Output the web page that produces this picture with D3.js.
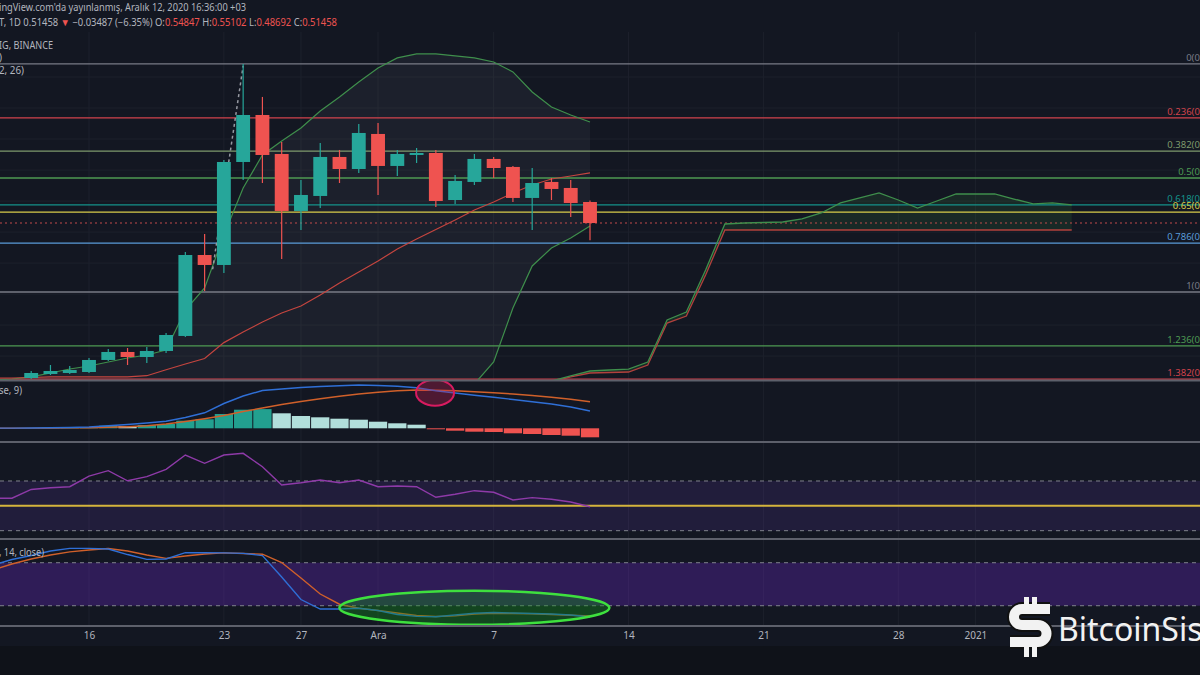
<!DOCTYPE html>
<html lang="tr">
<head>
<meta charset="UTF-8">
<title>XRP 1D - BINANCE</title>
<script src="https://d3js.org/d3.v7.min.js"></script>
<style>
    body { margin: 0; background: #131722; }
    svg { display: block; font-family: "Noto Sans", sans-serif; }
</style>
</head>
<body>
<svg width="1200" height="675"></svg>
<script>
// ---- candles (daily, from 2020-11-13) ----
var candleStart = "2020-11-13";
var open  = [0.2646,0.2711,0.2727,0.2743,0.2937,0.3066,0.2985,0.3082,0.3324,0.4630,0.4469,0.6130,0.6888,0.6259,0.5340,0.5582,0.6211,0.6017,0.6582,0.6066,0.6243,0.6275,0.5517,0.5808,0.6179,0.6050,0.5550,0.5808,0.5711,0.54847];
var high  = [0.2759,0.2856,0.2840,0.2969,0.3114,0.3130,0.3146,0.3372,0.4679,0.4969,0.6162,0.7711,0.7179,0.6453,0.5840,0.6437,0.6324,0.6743,0.6759,0.6324,0.6356,0.6324,0.5920,0.6259,0.6211,0.6066,0.6033,0.5872,0.5840,0.55102];
var low   = [0.2630,0.2695,0.2711,0.2727,0.2920,0.2856,0.2888,0.3050,0.3308,0.4050,0.4340,0.5840,0.5791,0.4566,0.5033,0.5388,0.5791,0.5953,0.5598,0.5904,0.6114,0.5404,0.5453,0.5759,0.5872,0.5485,0.5033,0.5517,0.5243,0.48692];
var close = [0.2727,0.2759,0.2775,0.2937,0.3066,0.2985,0.3082,0.3340,0.4630,0.4469,0.6130,0.6888,0.6243,0.5340,0.5598,0.6211,0.6017,0.6598,0.6066,0.6259,0.6275,0.5501,0.5824,0.6179,0.6033,0.5550,0.5791,0.5695,0.5469,0.51458];

// ---- indicators (daily, from 2020-11-11) ----
var indStart = "2020-11-11";
var bbUpper = [0.2614,0.2630,0.2663,0.2727,0.2791,0.2840,0.2904,0.2969,0.3017,0.3098,0.3743,0.4098,0.4953,0.5711,0.6243,0.6469,0.6679,0.6953,0.7179,0.7421,0.7646,0.7808,0.7872,0.7872,0.7840,0.7808,0.7743,0.7582,0.7259,0.7017,0.6888,0.6775];
var bbBasis = [0.2646,0.2646,0.2654,0.2663,0.2663,0.2663,0.2663,0.2663,0.2683,0.2779,0.2872,0.2961,0.3217,0.3388,0.3550,0.3695,0.3808,0.3985,0.4179,0.4356,0.4533,0.4727,0.4888,0.5041,0.5195,0.5356,0.5485,0.5630,0.5759,0.5856,0.5904,0.5953];
var bbLower = [0.2550,0.2550,0.2550,0.2540,0.2530,0.2520,0.2480,0.2440,0.2400,0.2350,0.2150,0.1900,0.1500,0.1100,0.0900,0.0900,0.0950,0.1000,0.1150,0.1300,0.1450,0.1650,0.1900,0.2100,0.2350,0.2550,0.2905,0.3775,0.4453,0.4743,0.4904,0.5098];

var macdLine   = [0.0002,0.0002,0.0003,0.0005,0.0008,0.0013,0.0025,0.0038,0.0053,0.0070,0.0108,0.0155,0.0248,0.0323,0.0378,0.0393,0.0408,0.0418,0.0426,0.0433,0.0428,0.0421,0.0405,0.0375,0.0353,0.0331,0.0310,0.0288,0.0265,0.0243,0.0213,0.0173];
var macdSignal = [0.0001,0.0001,0.0002,0.0003,0.0004,0.0006,0.0010,0.0016,0.0026,0.0043,0.0068,0.0096,0.0128,0.0168,0.0203,0.0238,0.0268,0.0296,0.0320,0.0343,0.0360,0.0375,0.0383,0.0380,0.0375,0.0365,0.0355,0.0343,0.0328,0.0310,0.0290,0.0266];
var macdHist   = [0.0001,0.0001,0.0003,0.0005,0.0007,0.0013,0.0026,0.0023,0.0033,0.0043,0.0076,0.0090,0.0143,0.0186,0.0192,0.0150,0.0123,0.0110,0.0096,0.0086,0.0066,0.0050,0.0036,-0.0010,-0.0024,-0.0034,-0.0037,-0.0050,-0.0057,-0.0067,-0.0074,-0.0090];

var rsi    = [56.1,56.1,63.2,64.6,65.4,74.0,78.3,70.2,73.5,79.4,90.9,84.2,90.9,92.3,81.5,66.8,68.6,70.8,68.6,70.8,65.4,66.0,65.4,56.9,59.3,62.2,60.9,54.7,56.6,55.3,53.1,49.3];
var stochK = [76.8,84.5,90.0,96.3,100,100,99.1,91.4,84.7,85.2,94.0,94.0,93.8,93.1,90.0,60.0,28.6,15.4,15.4,16.4,13.3,7.7,5.2,4.7,7.0,9.4,10.5,9.8,9.1,8.4,7.0,4.2];
var stochD = [69.8,78.2,85.2,90.7,95.2,97.7,99.8,96.3,90.7,86.1,89.3,92.1,93.8,92.8,91.9,80.3,58.6,36.3,22.1,16.4,13.3,9.8,6.3,4.9,5.9,8.4,9.4,9.1,8.7,7.7,6.7,5.6];

// ---- ichimoku cloud (shifted forward, from 2020-12-10) ----
var cloudStart = "2020-12-10";
var spanA = [0.2598,0.2679,0.2759,0.2775,0.2791,0.2904,0.3582,0.3711,0.4388,0.5130,0.5146,0.5154,0.5162,0.5211,0.5308,0.5469,0.5550,0.5630,0.5517,0.5388,0.5501,0.5614,0.5614,0.5614,0.5533,0.5453,0.5469,0.5437];
var spanB = [0.2582,0.2663,0.2727,0.2735,0.2743,0.2856,0.3533,0.3646,0.4308,0.5033,0.5033,0.5033,0.5033,0.5033,0.5033,0.5033,0.5033,0.5033,0.5033,0.5033,0.5033,0.5033,0.5033,0.5033,0.5033,0.5033,0.5033,0.5033];

// ---- fibonacci retracement ----
var fibHigh = 0.7711, fibLow = 0.4033;
var fibLevels = [0, 0.236, 0.382, 0.5, 0.618, 0.65, 0.786, 1, 1.236, 1.382];
var fibColors = ["#787b86","#d2434c","#7e9a6c","#4e9a52","#14928a","#d8cc4a","#5a9bd8","#787b86","#4e9a52","#d2434c"];

// dashed drawing near the 24 Nov top
var trendLine = [{t: "2020-11-22T10:00:00Z", p: 0.440}, {t: "2020-11-24T00:00:00Z", p: 0.768}];
var lastClose = 0.51458;

// ---- x axis ----
var tickDates  = ["2020-11-16","2020-11-23","2020-11-27","2020-12-01","2020-12-07","2020-12-14","2020-12-21","2020-12-28","2021-01-01"];
var tickLabels = ["16","23","27","Ara","7","14","21","28","2021"];

// annotations
var macdMark  = {t: "2020-12-03T23:00:00Z", v: 0.0356};
var stochMark = {t: "2020-12-06T00:00:00Z", v: 17.2};

var svg = d3.select("svg"),
    width = +svg.attr("width"),
    height = +svg.attr("height");

function days(start, n) {
    var s = new Date(start);
    return d3.range(n).map(function(i) { return d3.utcDay.offset(s, i); });
}

var x = d3.scaleUtc()
    .domain([new Date("2020-11-16"), new Date("2020-12-12")])
    .range([89, 590]);
var dayW = x(new Date("2020-11-17")) - x(new Date("2020-11-16"));

var yP = d3.scaleLinear().domain([0.2614, 0.8178]).range([380, 35]);
var yM = d3.scaleLinear().domain([-0.0127, 0.0473]).range([441, 381]);
var yR = d3.scaleLinear().domain([24.1, 101.4]).range([538, 442]);
var yS = d3.scaleLinear().domain([-6.9, 111.7]).range([625, 540]);

var panes = [
    {id: "main",  top: 32,  bottom: 380},
    {id: "macd",  top: 381, bottom: 441},
    {id: "rsi",   top: 443, bottom: 538},
    {id: "stoch", top: 540, bottom: 625}
];

svg.append("rect").attr("width", width).attr("height", height).attr("fill", "#131722");
svg.append("rect").attr("y", 646).attr("width", width).attr("height", height - 646).attr("fill", "#0f1219");

var defs = svg.append("defs");
panes.forEach(function(p) {
    defs.append("clipPath").attr("id", "clip-" + p.id)
        .append("rect").attr("x", 0).attr("y", p.top).attr("width", width).attr("height", p.bottom - p.top);
});

// grid
var grid = svg.append("g").attr("stroke", "#1d212c").attr("stroke-width", 1);
grid.selectAll("line.v")
    .data(tickDates)
    .enter().append("line")
    .attr("x1", function(d) { return x(new Date(d)); })
    .attr("x2", function(d) { return x(new Date(d)); })
    .attr("y1", 32).attr("y2", 626);
grid.selectAll("line.h")
    .data(d3.range(0.30, 0.80, 0.05))
    .enter().append("line")
    .attr("x1", 0).attr("x2", width)
    .attr("y1", function(d) { return yP(d); })
    .attr("y2", function(d) { return yP(d); });

// ---------------- main pane ----------------
var main = svg.append("g").attr("clip-path", "url(#clip-main)");
var indDays = days(indStart, bbUpper.length);

// bollinger fill
main.append("path")
    .datum(indDays)
    .attr("fill", "rgba(200,205,220,0.055)")
    .attr("d", d3.area()
        .x(function(d) { return x(d); })
        .y0(function(d, i) { return yP(bbLower[i]); })
        .y1(function(d, i) { return yP(bbUpper[i]); }));

// cloud fill
var cloudDays = days(cloudStart, spanA.length);
main.append("path")
    .datum(cloudDays)
    .attr("fill", "rgba(67,160,71,0.13)")
    .attr("d", d3.area()
        .x(function(d) { return x(d); })
        .y0(function(d, i) { return yP(spanB[i]); })
        .y1(function(d, i) { return yP(spanA[i]); }));

// fib lines + labels
var fib = fibLevels.map(function(l, i) {
    return {level: l, price: fibHigh - l * (fibHigh - fibLow), color: fibColors[i]};
});
main.selectAll("line.fib")
    .data(fib)
    .enter().append("line")
    .attr("x1", 0).attr("x2", width)
    .attr("y1", function(d) { return yP(d.price); })
    .attr("y2", function(d) { return yP(d.price); })
    .attr("stroke", function(d) { return d.color; })
    .attr("stroke-width", 1.3);
main.selectAll("text.fib")
    .data(fib)
    .enter().append("text")
    .attr("x", 1227)
    .attr("y", function(d) { return yP(d.price) - 3; })
    .attr("text-anchor", "end")
    .attr("font-size", 9.5)
    .attr("fill", function(d) { return d.color; })
    .text(function(d) { return d.level + "(" + d.price.toFixed(4) + ")"; });

// last price dotted line
main.append("line")
    .attr("x1", 0).attr("x2", width)
    .attr("y1", yP(lastClose)).attr("y2", yP(lastClose))
    .attr("stroke", "#c24a4a").attr("stroke-dasharray", "2,3").attr("stroke-width", 1);

// bollinger lines
function priceLine(arr, dates) {
    return d3.line()
        .x(function(d, i) { return x(dates[i]); })
        .y(function(d) { return yP(d); })(arr);
}
main.append("path").attr("d", priceLine(bbUpper, indDays)).attr("fill", "none").attr("stroke", "#3f8f4c").attr("stroke-width", 1.2);
main.append("path").attr("d", priceLine(bbLower, indDays)).attr("fill", "none").attr("stroke", "#3f8f4c").attr("stroke-width", 1.2);
main.append("path").attr("d", priceLine(bbBasis, indDays)).attr("fill", "none").attr("stroke", "#c5453f").attr("stroke-width", 1.2);

// cloud lines
main.append("path").attr("d", priceLine(spanB, cloudDays)).attr("fill", "none").attr("stroke", "#b2413d").attr("stroke-width", 1.3);
main.append("path").attr("d", priceLine(spanA, cloudDays)).attr("fill", "none").attr("stroke", "#3f8f4c").attr("stroke-width", 1.3);

// dashed drawing
main.append("line")
    .attr("x1", x(new Date(trendLine[0].t))).attr("y1", yP(trendLine[0].p))
    .attr("x2", x(new Date(trendLine[1].t))).attr("y2", yP(trendLine[1].p))
    .attr("stroke", "#9598a1").attr("stroke-width", 1.5).attr("stroke-dasharray", "3,3");

// candles
var cDays = days(candleStart, open.length);
var candles = cDays.map(function(d, i) {
    return {t: d, o: open[i], h: high[i], l: low[i], c: close[i]};
});
var bw = dayW * 0.72;
var cg = main.append("g").selectAll("g")
    .data(candles)
    .enter().append("g")
    .attr("fill", function(d) { return d.c >= d.o ? "#26a69a" : "#ef5350"; })
    .attr("stroke", function(d) { return d.c >= d.o ? "#26a69a" : "#ef5350"; });
cg.append("line")
    .attr("x1", function(d) { return x(d.t); })
    .attr("x2", function(d) { return x(d.t); })
    .attr("y1", function(d) { return yP(d.h); })
    .attr("y2", function(d) { return yP(d.l); })
    .attr("stroke-width", 1.2);
cg.append("rect")
    .attr("stroke", "none")
    .attr("x", function(d) { return x(d.t) - bw / 2; })
    .attr("width", bw)
    .attr("y", function(d) { return yP(Math.max(d.o, d.c)); })
    .attr("height", function(d) { return Math.max(1.5, Math.abs(yP(d.o) - yP(d.c))); });

// ---------------- MACD pane ----------------
var macd = svg.append("g").attr("clip-path", "url(#clip-macd)");
macd.selectAll("rect")
    .data(macdHist)
    .enter().append("rect")
    .attr("x", function(d, i) { return x(indDays[i]) - dayW / 2 + 0.5; })
    .attr("width", dayW - 1)
    .attr("y", function(d) { return Math.min(yM(d), yM(0)); })
    .attr("height", function(d) { return Math.abs(yM(d) - yM(0)); })
    .attr("fill", function(d, i) {
        var prev = i ? macdHist[i - 1] : 0;
        if (d >= 0) return d >= prev ? "#22a08f" : "#b2dfdb";
        return d < prev ? "#ef5350" : "#ffcdd2";
    });
var mline = d3.line().x(function(d, i) { return x(indDays[i]); }).y(function(d) { return yM(d); });
macd.append("path").attr("d", mline(macdSignal)).attr("fill", "none").attr("stroke", "#d0602a").attr("stroke-width", 1.4);
macd.append("path").attr("d", mline(macdLine)).attr("fill", "none").attr("stroke", "#2f6fd6").attr("stroke-width", 1.4);
macd.append("ellipse")
    .attr("cx", x(new Date(macdMark.t))).attr("cy", yM(macdMark.v))
    .attr("rx", 19).attr("ry", 13)
    .attr("fill", "rgba(190,30,80,0.35)").attr("stroke", "#d81b60").attr("stroke-width", 2);

// ---------------- RSI pane ----------------
var rp = svg.append("g").attr("clip-path", "url(#clip-rsi)");
rp.append("rect").attr("x", 0).attr("width", width)
    .attr("y", yR(70)).attr("height", yR(30) - yR(70))
    .attr("fill", "rgba(110,60,190,0.16)");
[70, 30].forEach(function(v) {
    rp.append("line").attr("x1", 0).attr("x2", width).attr("y1", yR(v)).attr("y2", yR(v))
        .attr("stroke", "#80838d").attr("stroke-dasharray", "4,4").attr("stroke-width", 1);
});
rp.append("line").attr("x1", 0).attr("x2", width).attr("y1", yR(50)).attr("y2", yR(50))
    .attr("stroke", "#d4b43c").attr("stroke-width", 2);
rp.append("path")
    .attr("d", d3.line().x(function(d, i) { return x(indDays[i]); }).y(function(d) { return yR(d); })(rsi))
    .attr("fill", "none").attr("stroke", "#8e3aa8").attr("stroke-width", 1.4);

// ---------------- Stoch RSI pane ----------------
var sp = svg.append("g").attr("clip-path", "url(#clip-stoch)");
sp.append("rect").attr("x", 0).attr("width", width)
    .attr("y", yS(80)).attr("height", yS(20) - yS(80))
    .attr("fill", "rgba(110,40,200,0.32)");
[80, 20].forEach(function(v) {
    sp.append("line").attr("x1", 0).attr("x2", width).attr("y1", yS(v)).attr("y2", yS(v))
        .attr("stroke", "#80838d").attr("stroke-dasharray", "4,4").attr("stroke-width", 1);
});
var sline = d3.line().x(function(d, i) { return x(indDays[i]); }).y(function(d) { return yS(d); });
sp.append("path").attr("d", sline(stochD)).attr("fill", "none").attr("stroke", "#d0602a").attr("stroke-width", 1.4);
sp.append("path").attr("d", sline(stochK)).attr("fill", "none").attr("stroke", "#2f6fd6").attr("stroke-width", 1.4);
svg.append("ellipse")
    .attr("cx", x(new Date(stochMark.t))).attr("cy", yS(stochMark.v))
    .attr("rx", 135).attr("ry", 17)
    .attr("fill", "rgba(20,140,30,0.4)").attr("stroke", "#3ee03e").attr("stroke-width", 2.5);

// pane separators
svg.selectAll("line.sep")
    .data([380.5, 442, 539, 626])
    .enter().append("line")
    .attr("x1", 0).attr("x2", width)
    .attr("y1", function(d) { return d; }).attr("y2", function(d) { return d; })
    .attr("stroke", "#5d606b").attr("stroke-width", 2);

// x axis
var xa = svg.append("g")
    .attr("transform", "translate(0,629)")
    .call(d3.axisBottom(x)
        .tickValues(tickDates.map(function(d) { return new Date(d); }))
        .tickFormat(function(d, i) { return tickLabels[i]; })
        .tickSize(0));
xa.select(".domain").remove();
xa.selectAll("text").attr("fill", "#b2b5be").attr("font-size", 10).attr("font-family", "Noto Sans");

// legends
var legend = svg.append("g").attr("font-size", 10).attr("fill", "#b2b5be");
legend.append("text").attr("x", -1).attr("y", 11)
    .attr("textLength", 247).attr("lengthAdjust", "spacingAndGlyphs")
    .text("ingView.com'da yayınlanmış, Aralık 12, 2020 16:36:00 +03");
var l2 = legend.append("text").attr("x", -1).attr("y", 26)
    .attr("textLength", 338).attr("lengthAdjust", "spacingAndGlyphs");
[["T, 1D 0.51458 ", "#b2b5be"], ["▼", "#ef5350"], [" −0.03487 (−6.35%) O:", "#b2b5be"], ["0.54847", "#ef5350"],
 [" H:", "#b2b5be"], ["0.55102", "#ef5350"], [" L:", "#b2b5be"], ["0.48692", "#ef5350"],
 [" C:", "#b2b5be"], ["0.51458", "#ef5350"]].forEach(function(s) {
    l2.append("tspan").attr("fill", s[1]).text(s[0]);
});
legend.append("text").attr("x", -1).attr("y", 49).attr("textLength", 54).attr("lengthAdjust", "spacingAndGlyphs").text("IG, BINANCE");
legend.append("text").attr("x", -1).attr("y", 61).text(")");
legend.append("text").attr("x", -1).attr("y", 74).attr("textLength", 25).attr("lengthAdjust", "spacingAndGlyphs").text("2, 26)");
legend.append("text").attr("x", -1).attr("y", 394).attr("textLength", 23).attr("lengthAdjust", "spacingAndGlyphs").text("se, 9)");
legend.append("text").attr("x", -1).attr("y", 556).attr("textLength", 45).attr("lengthAdjust", "spacingAndGlyphs").text(", 14, close)");

// watermark logo
var logo = svg.append("g");
logo.append("path")
    .attr("d", "M1050,609 H1022 a8,8 0 0 0 0,16 H1038 a8.5,8.5 0 0 1 0,17 H1010")
    .attr("fill", "none").attr("stroke", "#111").attr("stroke-width", 14);
logo.append("path")
    .attr("d", "M1050,609 H1022 a8,8 0 0 0 0,16 H1038 a8.5,8.5 0 0 1 0,17 H1010")
    .attr("fill", "none").attr("stroke", "#f2f2f2").attr("stroke-width", 10);
[[1024, 597], [1032, 597], [1024, 647], [1032, 647]].forEach(function(p) {
    logo.append("rect").attr("x", p[0]).attr("y", p[1]).attr("width", 5).attr("height", 10).attr("fill", "#f2f2f2");
});
logo.append("text").attr("x", 1058).attr("y", 641)
    .attr("font-size", 32).attr("fill", "#f2f2f2").attr("font-family", "Noto Sans")
    .text("BitcoinSistemi");
</script>
</body>
</html>
